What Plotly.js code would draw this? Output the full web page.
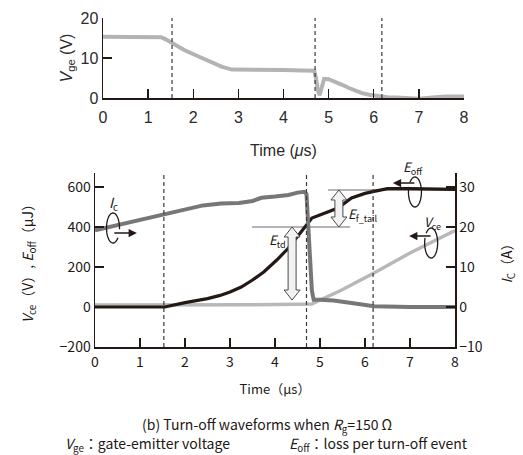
<!DOCTYPE html>
<html>
<head>
<meta charset="utf-8">
<script src="https://cdn.plot.ly/plotly-3.0.1.min.js"></script>
<style>html,body{margin:0;padding:0;background:#fff;}#chart{width:523px;height:455px;}</style>
</head>
<body>
<div id="chart"></div>
<script>
// ---- Data ----
// Top panel: gate-emitter voltage Vge (V) vs time (µs)
const vgeTime = [0, 0.5, 1.0, 1.29, 1.4, 1.53, 1.8, 2.13, 2.4, 2.64, 2.86, 3.2, 3.6, 4.0, 4.4, 4.68, 4.72, 4.76, 4.8, 4.84, 4.9, 5.0, 5.17, 5.3, 5.45, 5.6, 5.74, 5.9, 6.05, 6.3, 6.5, 6.8, 7.0, 7.3, 7.6, 8.0];
const vgeValue = [15.3, 15.3, 15.2, 15.2, 14.6, 13.7, 12.0, 10.3, 9.0, 7.8, 7.1, 7.0, 7.0, 7.0, 6.9, 6.8, 5.0, 2.0, 0.7, 2.5, 4.8, 4.7, 4.0, 3.3, 2.5, 1.8, 1.2, 0.8, 0.5, 0.2, 0.1, -0.2, -0.2, 0.1, 0.4, 0.4];

// Bottom panel: collector-emitter voltage Vce (V)
const vceTime = [0, 0.5, 1.0, 1.5, 2.0, 2.5, 3.0, 3.5, 4.0, 4.5, 4.7, 4.82, 5.0, 5.44, 6.2, 7.0, 8.0];
const vceValue = [10, 10, 10, 10, 8, 9, 10, 11, 12, 14, 15, 15, 35, 80, 170, 270, 382];

// Bottom panel: collector current Ic (A), right axis
const icTime = [0, 0.5, 1.0, 1.5, 2.0, 2.4, 2.8, 3.2, 3.5, 3.7, 4.0, 4.3, 4.5, 4.65, 4.7, 4.75, 4.78, 4.82, 4.86, 5.0, 5.3, 5.7, 6.2, 7.0, 8.0];
const icValue = [19.2, 20.5, 21.8, 23.0, 24.2, 25.4, 25.9, 26.0, 26.5, 27.3, 27.6, 28.0, 28.6, 28.8, 28.2, 20, 12, 4, 1.8, 1.8, 1.6, 1.0, 0.2, 0.0, 0.0];

// Bottom panel: turn-off loss Eoff (µJ)
const eoffTime = [0, 1.55, 2.0, 2.5, 2.78, 3.0, 3.25, 3.5, 3.75, 4.04, 4.3, 4.5, 4.7, 4.82, 4.9, 5.2, 5.4, 5.7, 6.0, 6.2, 6.5, 7.0, 7.5, 8.0];
const eoffValue = [0, 0, 22, 42, 58, 75, 100, 135, 175, 235, 295, 350, 410, 445, 452, 475, 495, 545, 568, 578, 592, 592, 588, 588];

// Event markers (µs) and energy reference levels (µJ)
const eventTimes = [1.53, 4.7, 6.18];
const etdLevels = [400, 35];       // Etd arrow: top, bottom
const eftailLevels = [585, 400];   // Ef_tail arrow: top, bottom
const etdX = 4.38, eftailX = 5.42;
const refLine1 = {x0: 3.49, x1: 5.67, y: 400};
const refLine2 = {x0: 5.18, x1: 7.96, y: 585};

// Tick labels
const xTicks = [0, 1, 2, 3, 4, 5, 6, 7, 8];
const vgeTicks = [0, 10, 20];
const leftTicks = [-200, 0, 200, 400, 600];
const rightTicks = [-10, 0, 10, 20, 30];

// ---- Styling ----
const INK = '#231815';
const CJK = '"Noto Sans CJK JP", "Noto Sans", sans-serif';
const SANS = '"Liberation Sans", Arial, sans-serif';

const traces = [
  {x: vgeTime, y: vgeValue, xaxis: 'x', yaxis: 'y', mode: 'lines', line: {color: '#b3b3b3', width: 4}, hoverinfo: 'skip'},
  {x: vceTime, y: vceValue, xaxis: 'x2', yaxis: 'y2', mode: 'lines', line: {color: '#b8b8b8', width: 3.5}, hoverinfo: 'skip'},
  {x: icTime, y: icValue, xaxis: 'x2', yaxis: 'y3', mode: 'lines', line: {color: '#777777', width: 4}, hoverinfo: 'skip'},
  {x: eoffTime, y: eoffValue, xaxis: 'x2', yaxis: 'y2', mode: 'lines', line: {color: INK, width: 3.2}, hoverinfo: 'skip'}
];

function axisBase(extra) {
  return Object.assign({
    showline: true, linecolor: INK, linewidth: 1.5,
    ticks: 'inside', ticklen: 9, tickwidth: 1.3, tickcolor: INK,
    showgrid: false, zeroline: false, fixedrange: true
  }, extra);
}

// helper to build elliptical arc outline in pixel units (decoration only)
function arcPath(rx, ry, a0, a1, n) {
  let s = '';
  for (let i = 0; i <= n; i++) {
    const t = (a0 + (a1 - a0) * i / n) * Math.PI / 180;
    s += (i ? 'L' : 'M') + (rx * Math.cos(t)).toFixed(2) + ',' + (ry * Math.sin(t)).toFixed(2);
  }
  return s;
}
function fatDoubleArrow(yTop, yBot, hl) {
  return 'M0,' + yTop + ' L8,' + (yTop - hl) + ' L4,' + (yTop - hl) + ' L4,' + (yBot + hl) +
         ' L8,' + (yBot + hl) + ' L0,' + yBot + ' L-8,' + (yBot + hl) + ' L-4,' + (yBot + hl) +
         ' L-4,' + (yTop - hl) + ' L-8,' + (yTop - hl) + ' Z';
}

const shapes = [];
eventTimes.forEach(t => {
  shapes.push({type: 'line', xref: 'x', yref: 'y domain', x0: t, x1: t, y0: 0, y1: 1, line: {color: '#3a3a3a', width: 1.2, dash: '4px,3px'}});
  shapes.push({type: 'line', xref: 'x2', yref: 'y2 domain', x0: t, x1: t, y0: 0, y1: 1, line: {color: '#3a3a3a', width: 1.2, dash: '4px,3px'}});
});
[refLine1, refLine2].forEach(r => {
  shapes.push({type: 'line', xref: 'x2', yref: 'y2', x0: r.x0, x1: r.x1, y0: r.y, y1: r.y, line: {color: '#6a6a6a', width: 1}, layer: 'below'});
});
shapes.push({type: 'path', xref: 'x2', yref: 'y2', xsizemode: 'pixel', xanchor: etdX,
  path: fatDoubleArrow(etdLevels[0], etdLevels[1], 50), fillcolor: '#f2f2f2', line: {color: '#4a4a4a', width: 1}});
shapes.push({type: 'path', xref: 'x2', yref: 'y2', xsizemode: 'pixel', xanchor: eftailX,
  path: fatDoubleArrow(eftailLevels[0], eftailLevels[1], 50), fillcolor: '#f2f2f2', line: {color: '#4a4a4a', width: 1}});

// rotation icons (ellipse outline)
const icons = [
  {x: 0.40, y: 395, a0: -5, a1: 320},
  {x: 7.11, y: 575, a0: 160, a1: 500},
  {x: 7.47, y: 320, a0: 160, a1: 500}
];
icons.forEach(ic => {
  shapes.push({type: 'path', xref: 'x2', yref: 'y2', xsizemode: 'pixel', ysizemode: 'pixel',
    xanchor: ic.x, yanchor: ic.y, path: arcPath(6.5, 15, ic.a0, ic.a1, 40), line: {color: INK, width: 1.3}});
});

const annotations = [
  // arrows from icons
  {xref: 'x2', yref: 'y2', x: 0.93, y: 370, ax: -24, ay: 0, text: '', showarrow: true, arrowhead: 2, arrowsize: 1.1, arrowwidth: 1.5, arrowcolor: INK},
  {xref: 'x2', yref: 'y2', x: 6.62, y: 620, ax: 23, ay: 0, text: '', showarrow: true, arrowhead: 2, arrowsize: 1.1, arrowwidth: 1.5, arrowcolor: INK},
  {xref: 'x2', yref: 'y2', x: 6.98, y: 355, ax: 23, ay: 0, text: '', showarrow: true, arrowhead: 2, arrowsize: 1.1, arrowwidth: 1.5, arrowcolor: INK},
  // labels
  {xref: 'x2', yref: 'y2', x: 0.42, y: 522, text: '<i>I</i><sub>c</sub>', showarrow: false, font: {family: CJK, size: 14, color: INK}},
  {xref: 'paper', yref: 'paper', x: 413 / 523, y: 1 - 167 / 455, xanchor: 'center', yanchor: 'middle', text: '<i>E</i><sub>off</sub>', showarrow: false, font: {family: CJK, size: 13, color: INK}},
  {xref: 'x2', yref: 'y2', x: 7.49, y: 424, text: '<i>V</i><sub>ce</sub>', showarrow: false, font: {family: CJK, size: 13, color: INK}},
  {xref: 'x2', yref: 'y2', x: 4.05, y: 335, text: '<i>E</i><sub>td</sub>', showarrow: false, font: {family: CJK, size: 13, color: INK}},
  {xref: 'x2', yref: 'y2', x: 5.95, y: 462, text: '<i>E</i><sub>f_tail</sub>', showarrow: false, font: {family: CJK, size: 13, color: INK}},
  // captions
  {xref: 'paper', yref: 'paper', x: 267 / 523, y: 1 - 425 / 455, xanchor: 'center', yanchor: 'middle', text: '(b) Turn-off waveforms when <i>R</i><sub>g</sub>=150 Ω', showarrow: false, font: {family: CJK, size: 14, color: INK}},
  {xref: 'paper', yref: 'paper', x: 147 / 523, y: 1 - 444 / 455, xanchor: 'center', yanchor: 'middle', text: '<i>V</i><sub>ge</sub>：gate-emitter voltage', showarrow: false, font: {family: CJK, size: 14, color: INK}},
  {xref: 'paper', yref: 'paper', x: 378 / 523, y: 1 - 444 / 455, xanchor: 'center', yanchor: 'middle', text: '<i>E</i><sub>off</sub>：loss per turn-off event', showarrow: false, font: {family: CJK, size: 14, color: INK}}
];

const layout = {
  width: 523, height: 455,
  margin: {l: 0, r: 0, t: 0, b: 0},
  paper_bgcolor: '#fff', plot_bgcolor: 'rgba(0,0,0,0)',
  showlegend: false,
  font: {family: CJK, color: INK},
  xaxis: axisBase({domain: [103 / 523, 464 / 523], range: [0, 8], anchor: 'y', tickvals: xTicks, ticklabelstandoff: 4,
    tickfont: {family: SANS, size: 16, color: '#2a2a2a'},
    title: {text: 'Time (<i>μ</i>s)', font: {family: SANS, size: 16, color: '#2a2a2a'}, standoff: 20}}),
  yaxis: axisBase({domain: [1 - 98 / 455, 1 - 18 / 455], range: [0, 20], anchor: 'x', tickvals: vgeTicks,
    tickfont: {family: SANS, size: 16, color: '#2a2a2a'},
    title: {text: '<i>V</i><sub>ge</sub> (V)', font: {family: SANS, size: 16, color: '#2a2a2a'}, standoff: 4}}),
  xaxis2: axisBase({domain: [95 / 523, 455 / 523], range: [0, 8], anchor: 'y2', tickvals: xTicks, ticklabelstandoff: 2,
    tickfont: {family: CJK, size: 14, color: INK},
    title: {text: 'Time（µs）', font: {family: CJK, size: 13, color: INK}, standoff: 14}}),
  yaxis2: axisBase({domain: [1 - 347 / 455, 1 - 173 / 455], range: [-200, 670], anchor: 'x2', tickvals: leftTicks,
    tickfont: {family: CJK, size: 14, color: INK},
    title: {text: '<i>V</i><sub>ce</sub>（V）, <i>E</i><sub>off</sub>（µJ）', font: {family: CJK, size: 14, color: INK}, standoff: 22}}),
  yaxis3: axisBase({domain: [1 - 347 / 455, 1 - 173 / 455], range: [-10, 33.5], anchor: 'x2', overlaying: 'y2', side: 'right', tickvals: rightTicks,
    tickfont: {family: CJK, size: 14, color: INK},
    title: {text: '<i>I</i><sub>C</sub>（A）', font: {family: CJK, size: 14, color: INK}, standoff: 20}}),
  shapes: shapes,
  annotations: annotations
};

Plotly.newPlot('chart', traces, layout, {staticPlot: true, displayModeBar: false});
</script>
</body>
</html>
